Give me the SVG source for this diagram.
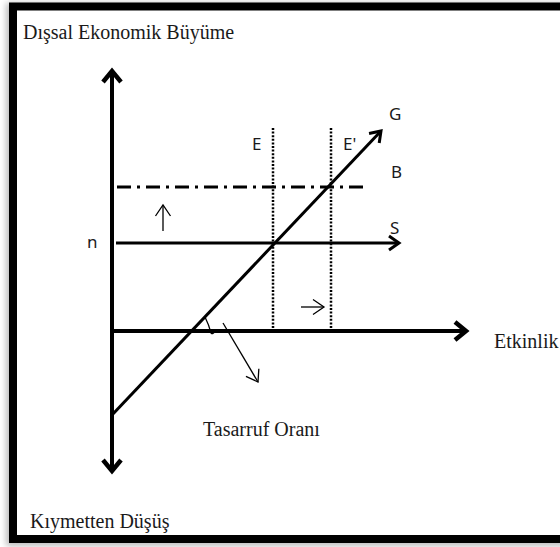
<svg xmlns="http://www.w3.org/2000/svg" width="560" height="547" viewBox="0 0 560 547">
<defs>
<style>
.ser{font-family:"Liberation Serif","Times New Roman",serif;font-size:20px;fill:#1a1a1a}
.san{font-family:"Noto Sans","Open Sans",sans-serif;font-size:17px;fill:#1a1a1a}
.ax{stroke:#000;stroke-width:4;fill:none}
.ln{stroke:#000;stroke-width:3;fill:none}
.thin{stroke:#000;stroke-width:1.3;fill:none}
.dot{stroke:#000;stroke-width:2.5;fill:none;stroke-dasharray:2 1.6}
</style>
<filter id="sh" x="-10%" y="-10%" width="120%" height="120%"><feGaussianBlur stdDeviation="3"/></filter>
<marker id="ma" markerUnits="userSpaceOnUse" viewBox="-14 -12 18 24" markerWidth="18" markerHeight="24" refX="0" refY="0" orient="auto" overflow="visible">
<path d="M-11,-9 L0,0 L-11,9" fill="none" stroke="#000" stroke-width="4.5" stroke-linejoin="miter"/>
</marker>
<marker id="ml" markerUnits="userSpaceOnUse" viewBox="-14 -12 18 24" markerWidth="18" markerHeight="24" refX="0" refY="0" orient="auto" overflow="visible">
<path d="M-10,-7 L0,0 L-10,7" fill="none" stroke="#000" stroke-width="3"/>
</marker>
<marker id="mt" markerUnits="userSpaceOnUse" viewBox="-14 -10 16 20" markerWidth="16" markerHeight="20" refX="0" refY="0" orient="auto" overflow="visible">
<path d="M-11,-7.5 L0,0 L-11,7.5" fill="none" stroke="#000" stroke-width="1.3"/>
</marker>
</defs>
<rect width="560" height="547" fill="#fff"/>
<rect x="11" y="8" width="560" height="533" fill="none" stroke="#bbb" stroke-width="10" filter="url(#sh)"/>
<rect x="13" y="6.5" width="560" height="532.5" fill="#fff" stroke="#000" stroke-width="8"/>

<g id="title"><text class="ser" x="23" y="39">Dışsal Ekonomik Büyüme</text></g>
<g id="bottom-label"><text class="ser" x="30" y="528">Kıymetten Düşüş</text></g>
<g id="etkinlik"><text class="ser" x="494" y="348">Etkinlik</text></g>
<g id="tasarruf"><text class="ser" x="203" y="436">Tasarruf Oranı</text></g>

<g id="connectors">
<line id="v-axis-up" class="ax" x1="112" y1="331" x2="112" y2="71" marker-end="url(#ma)"/>
<line id="v-axis-down" class="ax" x1="112" y1="331" x2="112" y2="471" marker-end="url(#ma)"/>
<line id="h-axis" class="ax" x1="110" y1="331" x2="466" y2="331" marker-end="url(#ma)"/>
<line id="S-line" class="ln" x1="116" y1="243" x2="399" y2="243" marker-end="url(#ml)"/>
<line id="B-line" class="ln" x1="117" y1="187" x2="364" y2="187" stroke-dasharray="14 6 3 6"/>
<line id="G-line" class="ln" x1="112" y1="415" x2="381" y2="131" marker-end="url(#ml)"/>
<line id="E-line" class="dot" x1="273" y1="128" x2="273" y2="330"/>
<line id="E2-line" class="dot" x1="331" y1="128" x2="331" y2="330"/>
<line id="up-arrow" class="thin" x1="163" y1="231" x2="163" y2="205" marker-end="url(#mt)"/>
<line id="right-arrow" class="thin" x1="301" y1="307" x2="324" y2="307" marker-end="url(#mt)"/>
<line id="slope-arrow" class="thin" x1="223" y1="323" x2="258" y2="382" marker-end="url(#mt)"/>
<path id="angle-mark" class="thin" d="M205,317 Q209,325 211,333 Q213,335 215,331"/>
</g>

<g id="label-G"><text class="san" x="389" y="120">G</text></g>
<g id="label-E"><text class="san" x="252" y="150">E</text></g>
<g id="label-E2"><text class="san" x="343" y="150">E'</text></g>
<g id="label-B"><text class="san" x="391" y="178">B</text></g>
<g id="label-S"><text class="san" x="390" y="234">S</text></g>
<g id="label-n"><text class="san" x="87" y="248">n</text></g>
</svg>
